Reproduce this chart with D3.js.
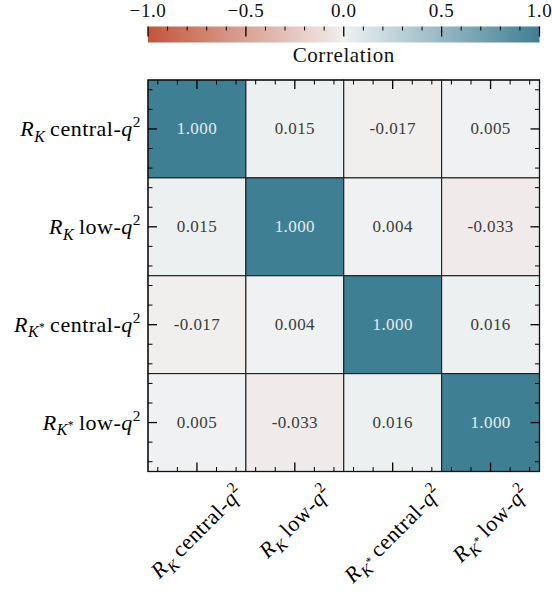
<!DOCTYPE html>
<html><head><meta charset="utf-8">
<script src="https://cdn.jsdelivr.net/npm/d3@7"></script>
<style>body{margin:0;background:#fff}svg{display:block}</style>
</head><body>
<script>
// ---- data ----
const subs = ["K", "K", "K*", "K*"];
const descs = ["central", "low", "central", "low"];
const row0 = [1.000, 0.015, -0.017, 0.005];
const row1 = [0.015, 1.000, 0.004, -0.033];
const row2 = [-0.017, 0.004, 1.000, 0.016];
const row3 = [0.005, -0.033, 0.016, 1.000];
const matrix = [row0, row1, row2, row3];
const cbTicks = [-1.0, -0.5, 0.0, 0.5, 1.0];
const cbTickLabels = ["\u22121.0", "\u22120.5", "0.0", "0.5", "1.0"];
const cbLabel = "Correlation";

const W = 552, H = 593;
const svg = d3.select("body").append("svg").attr("width", W).attr("height", H);
const FONT = "'Liberation Serif', 'DejaVu Serif', serif";

const color = d3.scaleLinear()
  .domain([-1, -0.04, 0, 0.02, 1])
  .range(["#c3553a", "#efe8e8", "#f2f2f2", "#eaeff1", "#3f7f93"])
  .interpolate(d3.interpolateRgb)
  .clamp(true);

const L = 148, R = 539.5, T = 80, B = 471.5;
const n = matrix.length;
const xb = d3.scaleBand().domain(d3.range(n)).range([L, R]);
const yb = d3.scaleBand().domain(d3.range(n)).range([T, B]);
const xl = d3.scaleLinear().domain([-0.5, n - 0.5]).range([L, R]);
const yl = d3.scaleLinear().domain([-0.5, n - 0.5]).range([T, B]);

// cells
const cells = [];
matrix.forEach((row, i) => row.forEach((v, j) => cells.push({i, j, v})));
svg.append("g").selectAll("rect").data(cells).join("rect")
  .attr("x", d => xb(d.j)).attr("y", d => yb(d.i))
  .attr("width", xb.bandwidth()).attr("height", yb.bandwidth())
  .attr("fill", d => color(d.v))
  .attr("stroke", "#1e1e1e").attr("stroke-width", 1.1);

svg.append("g").selectAll("text").data(cells).join("text")
  .attr("x", d => xb(d.j) + xb.bandwidth() / 2)
  .attr("y", d => yb(d.i) + yb.bandwidth() / 2)
  .attr("text-anchor", "middle").attr("dominant-baseline", "central")
  .attr("font-family", FONT).attr("font-size", 17).attr("letter-spacing", 0.4)
  .attr("fill", d => Math.abs(d.v) > 0.5 ? "#e4ecef" : "#3c3c3c")
  .text(d => d3.format(".3f")(d.v).replace("\u2212", "-"));

// frame
svg.append("rect").attr("x", L).attr("y", T).attr("width", R - L).attr("height", B - T)
  .attr("fill", "none").attr("stroke", "#111").attr("stroke-width", 1.2);

// ticks on all sides (inward)
const major = d3.range(n);
const minor = d3.range(-2, 5 * n - 2).map(k => k * 0.2).filter(v => Math.abs(v - Math.round(v)) > 1e-6 && v > -0.5 && v < n - 0.5);
const tg = svg.append("g").attr("stroke", "#000");
function ticks(vals, len, sw) {
  vals.forEach(v => {
    const x = xl(v), y = yl(v);
    tg.append("line").attr("x1", x).attr("x2", x).attr("y1", T).attr("y2", T + len).attr("stroke-width", sw);
    tg.append("line").attr("x1", x).attr("x2", x).attr("y1", B).attr("y2", B - len).attr("stroke-width", sw);
    tg.append("line").attr("y1", y).attr("y2", y).attr("x1", L).attr("x2", L + len).attr("stroke-width", sw);
    tg.append("line").attr("y1", y).attr("y2", y).attr("x1", R).attr("x2", R - len).attr("stroke-width", sw);
  });
}
ticks(major, 9, 1.3);
ticks(minor, 4.5, 1);

// labels
function buildLabel(t, i, fs) {
  t.append("tspan").attr("font-style", "italic").text("R");
  const s = subs[i];
  const sd = fs * 0.26;
  t.append("tspan").attr("font-style", "italic").attr("font-size", fs * 0.72).attr("dy", sd).text("K");
  let back = sd;
  if (s.includes("*")) {
    const up = fs * 0.3;
    t.append("tspan").attr("font-size", fs * 0.52).attr("dy", -up).text("*");
    back = sd - up;
  }
  t.append("tspan").attr("dy", -back).text("\u2009" + descs[i] + "-");
  t.append("tspan").attr("font-style", "italic").text("q");
  t.append("tspan").attr("font-size", fs * 0.7).attr("dy", -fs * 0.4).text("2");
}

const FS = 22;
d3.range(n).forEach(i => {
  const t = svg.append("text").attr("font-family", FONT).attr("font-size", FS)
    .attr("letter-spacing", 0.5)
    .attr("text-anchor", "end").attr("x", 141).attr("y", yb(i) + yb.bandwidth() / 2 + 7)
    .attr("fill", "#000");
  buildLabel(t, i, FS);
});

d3.range(n).forEach(i => {
  const g = svg.append("g");
  const t = g.append("text").attr("font-family", FONT).attr("font-size", FS)
    .attr("letter-spacing", 0.5)
    .attr("text-anchor", "middle").attr("fill", "#000");
  buildLabel(t, i, FS);
  const bb = t.node().getBBox();
  const w = bb.width, h = bb.height;
  const cx = xb(i) + xb.bandwidth() / 2;
  const half = (w + h) / (2 * Math.SQRT2);
  const cy = 478 + half;
  const by = bb.y + bb.height / 2;
  const bx = bb.x + bb.width / 2;
  t.attr("transform", `translate(${cx},${cy}) rotate(-45) translate(${-bx},${-by})`);
});

// colorbar
const cx0 = 148, cx1 = 539.5, cy0 = 26.5, cy1 = 42.5;
const cbx = d3.scaleLinear().domain([-1, 1]).range([cx0, cx1]);
const defs = svg.append("defs");
const grad = defs.append("linearGradient").attr("id", "cbg").attr("x1", "0%").attr("x2", "100%");
const stopVals = d3.range(-50, 51).map(k => k / 50).concat(color.domain()).sort((a, b) => a - b);
stopVals.forEach(v => {
  grad.append("stop").attr("offset", ((v + 1) / 2 * 100) + "%").attr("stop-color", color(v));
});
svg.append("rect").attr("x", cx0).attr("y", cy0).attr("width", cx1 - cx0).attr("height", cy1 - cy0).attr("fill", "url(#cbg)");

const cbMinor = d3.range(-10, 11).map(k => k / 10).filter(v => !cbTicks.some(t => Math.abs(t - v) < 1e-6));
cbTicks.forEach(v => svg.append("line").attr("x1", cbx(v)).attr("x2", cbx(v)).attr("y1", cy0).attr("y2", cy0 + 10).attr("stroke", "#000").attr("stroke-width", 1.3));
cbMinor.forEach(v => svg.append("line").attr("x1", cbx(v)).attr("x2", cbx(v)).attr("y1", cy0).attr("y2", cy0 + 4).attr("stroke", "#000").attr("stroke-width", 1));

svg.append("g").selectAll("text").data(cbTicks).join("text")
  .attr("x", d => cbx(d)).attr("y", 17)
  .attr("text-anchor", "middle").attr("font-family", FONT).attr("font-size", 19)
  .attr("letter-spacing", 0.6)
  .attr("fill", "#111")
  .text((d, i) => cbTickLabels[i]);

svg.append("text").attr("x", (cx0 + cx1) / 2).attr("y", 62)
  .attr("text-anchor", "middle").attr("font-family", FONT).attr("font-size", 21)
  .attr("letter-spacing", 0.6)
  .attr("fill", "#111").text(cbLabel);
</script>
</body></html>
